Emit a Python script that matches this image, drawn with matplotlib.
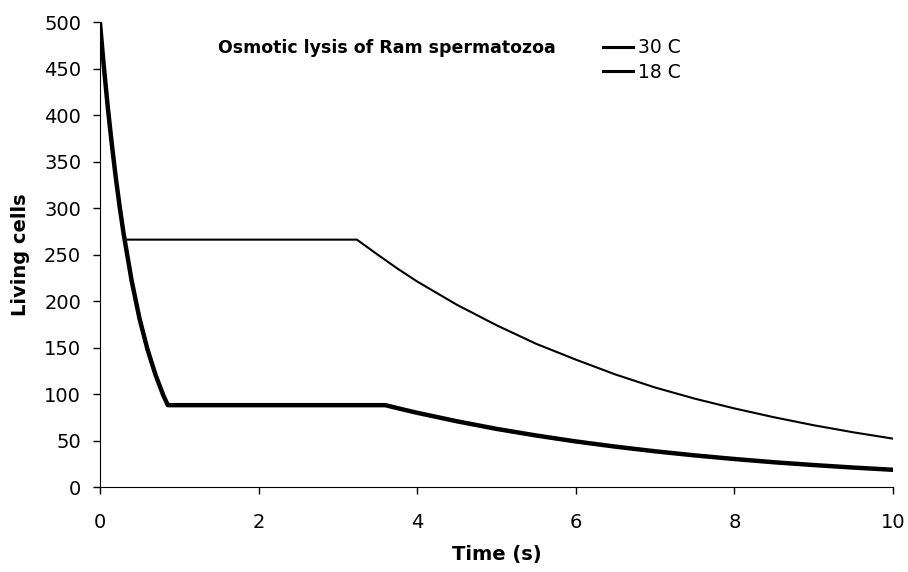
import matplotlib
matplotlib.use("Agg")
import matplotlib.pyplot as plt

plt.rcParams['font.family'] = ['DejaVu Sans']

# 30 C curve (thin)
tempo30 = [0, 0.05, 0.1, 0.15, 0.2, 0.25, 0.31, 3.24, 3.5, 3.75, 4.0, 4.5, 5.0, 5.5, 6.0, 6.5,
           7.0, 7.5, 8.0, 8.5, 9.0, 9.5, 10.0]
vivas30 = [500, 452, 408, 369, 333, 301, 266, 266, 250, 235, 221, 196, 174, 154, 137, 121,
           107, 95, 84.5, 75, 66.4, 58.8, 52]

# 18 C curve (thick)
tempo18 = [0, 0.05, 0.1, 0.15, 0.2, 0.25, 0.3, 0.4, 0.5, 0.6, 0.7, 0.8, 0.857, 3.60, 3.8, 4.0,
           4.5, 5.0, 5.5, 6.0, 6.5, 7.0, 7.5, 8.0, 8.5, 9.0, 9.5, 10.0]
vivas18 = [500, 452, 408, 369, 333, 301, 272, 222, 181, 148, 121, 98.5, 88, 88, 83.8, 79.8,
           70.7, 62.5, 55.4, 49, 43.4, 38.4, 34, 30.1, 26.6, 23.6, 20.9, 18.5]

ticksX = [0, 2, 4, 6, 8, 10]
ticksY = [0, 50, 100, 150, 200, 250, 300, 350, 400, 450, 500]

fig = plt.figure(figsize=(9.08, 5.72), dpi=100)
ax = fig.add_axes([0.110, 0.1486, 0.8735, 0.8129])

ax.plot(tempo30, vivas30, color='black', linewidth=1.5, label='30 C')
ax.plot(tempo18, vivas18, color='black', linewidth=3.2, label='18 C')

ax.set_xlim(0, 10)
ax.set_ylim(0, 500)
ax.set_xticks(ticksX)
ax.set_yticks(ticksY)
ax.tick_params(direction='out', length=5, width=1, labelsize=14)
ax.tick_params(axis='y', pad=8.5)
ax.tick_params(axis='x', pad=14)
ax.spines['top'].set_visible(False)
ax.spines['right'].set_visible(False)
ax.set_xlabel('Time (s)', fontsize=14, fontweight='bold', labelpad=9)
ax.set_ylabel('Living cells', fontsize=14, fontweight='bold', labelpad=10)

fig.text(0.240, 0.916, 'Osmotic lysis of Ram spermatozoa', fontsize=12.5, fontweight='bold',
         va='center', ha='left')
legenda = ax.legend(loc='upper left', bbox_to_anchor=(0.625, 0.981), frameon=False, fontsize=13.5,
                    handlelength=1.6, handletextpad=0.27, labelspacing=0.28, borderaxespad=0)
for linha in legenda.get_lines():
    linha.set_linewidth(2.2)

fig.savefig('out.png', dpi=100)
